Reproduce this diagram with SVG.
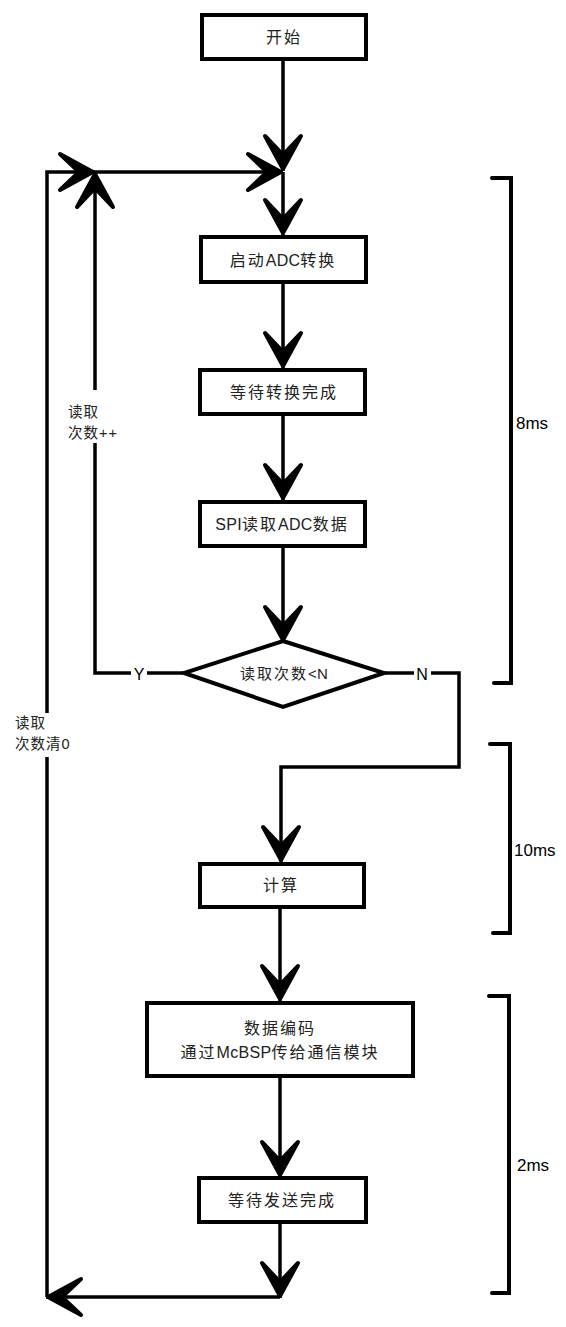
<svg xmlns="http://www.w3.org/2000/svg" width="566" height="1327" viewBox="0 0 566 1327">
<style>
.box{fill:#fff;stroke:#000;stroke-width:4}
.ln{fill:none;stroke:#000;stroke-width:3.5}
.br{fill:none;stroke:#000;stroke-width:4;stroke-linecap:round;stroke-linejoin:miter}
.t{font-family:"Liberation Sans","Noto Sans CJK SC",sans-serif;font-size:16px;letter-spacing:2px;fill:#222;text-anchor:middle;dominant-baseline:central}
.lat{letter-spacing:0.3px}
.d{font-size:15px;letter-spacing:2px}
.lb{font-family:"Liberation Sans","Noto Sans CJK SC",sans-serif;font-size:14.5px;letter-spacing:1px;fill:#222}
.ms{font-family:"Liberation Sans",sans-serif;font-size:17px;fill:#000}
.yn{font-family:"Liberation Sans",sans-serif;font-size:16px;fill:#000;text-anchor:middle;dominant-baseline:central}
</style>
<defs>
<marker id="ah" markerUnits="userSpaceOnUse" viewBox="-42 -25 46 50" refX="0" refY="0" markerWidth="46" markerHeight="50" orient="auto" overflow="visible">
<path d="M-2,0 L-35,-18 L-16,0 L-35,18 Z" fill="#000" stroke="#000" stroke-width="4" stroke-linejoin="round"/>
</marker>
</defs>
<rect width="566" height="1327" fill="#fff"/>
<g id="connectors">
<path class="ln" d="M283,61 L283,171" marker-end="url(#ah)"/>
<path class="ln" d="M283,172 L283,235" marker-end="url(#ah)"/>
<path class="ln" d="M95,172 L283,172" marker-end="url(#ah)"/>
<path class="ln" d="M47,1297 L47,172 L95,172" marker-end="url(#ah)"/>
<path class="ln" d="M184,673 L95,673 L95,172" marker-end="url(#ah)"/>
<path class="ln" d="M283,284 L283,368" marker-end="url(#ah)"/>
<path class="ln" d="M283,416 L283,500" marker-end="url(#ah)"/>
<path class="ln" d="M283,548 L283,642" marker-end="url(#ah)"/>
<path class="ln" d="M384,673 L459,673 L459,767 L281,767 L281,862" marker-end="url(#ah)"/>
<path class="ln" d="M280,908 L280,1001" marker-end="url(#ah)"/>
<path class="ln" d="M280,1078 L280,1177" marker-end="url(#ah)"/>
<path class="ln" d="M280,1223 L280,1298" marker-end="url(#ah)"/>
<path class="ln" d="M280,1297 L46,1297" marker-end="url(#ah)"/>
<rect x="131" y="664" width="16" height="18" fill="#fff"/>
<text class="yn" x="139" y="674">Y</text>
<rect x="414" y="664" width="17" height="18" fill="#fff"/>
<text class="yn" x="422" y="674">N</text>
</g>
<g id="n-start">
<rect class="box" x="202" y="15" width="164" height="44"/>
<text class="t" x="284" y="37">开始</text>
</g>
<g id="n-adc">
<rect class="box" x="201" y="237" width="165" height="45"/>
<text class="t" x="283" y="260">启动<tspan class="lat">ADC</tspan>转换</text>
</g>
<g id="n-wait">
<rect class="box" x="200" y="370" width="165" height="44"/>
<text class="t" x="284" y="392">等待转换完成</text>
</g>
<g id="n-spi">
<rect class="box" x="200" y="502" width="165" height="44"/>
<text class="t" x="282" y="524"><tspan class="lat">SPI</tspan>读取<tspan class="lat">ADC</tspan>数据</text>
</g>
<g id="n-dec">
<polygon class="box" points="283,641 384,673 283,707 184,673"/>
<text class="t d" x="284" y="673">读取次数<tspan class="lat">&lt;N</tspan></text>
</g>
<g id="n-calc">
<rect class="box" x="200" y="864" width="164" height="43"/>
<text class="t" x="281" y="885">计算</text>
</g>
<g id="n-enc">
<rect class="box" x="147" y="1003" width="266" height="73"/>
<text class="t" x="280" y="1028">数据编码</text>
<text class="t" x="280" y="1052">通过<tspan class="lat">McBSP</tspan>传给通信模块</text>
</g>
<g id="n-send">
<rect class="box" x="199" y="1178" width="167" height="44"/>
<text class="t" x="282" y="1200">等待发送完成</text>
</g>
<g id="label-inc">
<rect x="66" y="390" width="58" height="53" fill="#fff"/>
<text class="lb" x="68" y="417">读取</text>
<text class="lb" x="68" y="438">次数++</text>
</g>
<g id="label-clr">
<rect x="13" y="713" width="58" height="44" fill="#fff"/>
<text class="lb" x="15" y="728">读取</text>
<text class="lb" x="15" y="749">次数清0</text>
</g>
<g id="timing">
<path class="br" d="M492,178 L511,178 L511,683 L494,683"/>
<text class="ms" x="516" y="429">8ms</text>
<path class="br" d="M490,744 L510,744 L510,933 L493,933"/>
<text class="ms" x="514" y="856">10ms</text>
<path class="br" d="M489,996 L509,996 L509,1293 L492,1293"/>
<text class="ms" x="517" y="1171">2ms</text>
</g>
</svg>
